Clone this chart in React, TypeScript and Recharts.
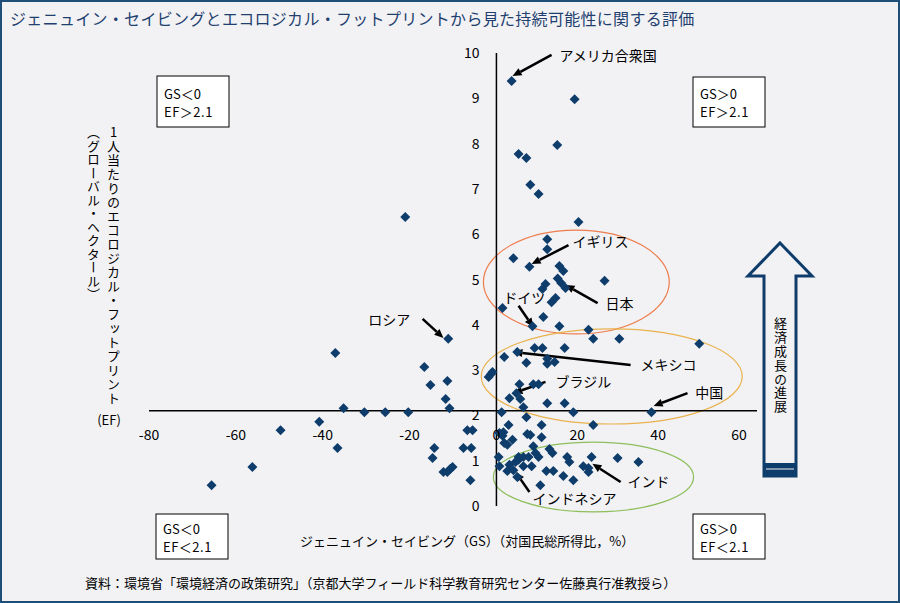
import React from 'react';
import { ScatterChart, Scatter, XAxis, YAxis, ReferenceLine, ReferenceArea, ReferenceDot } from 'recharts';

const FONT = "'Noto Sans CJK JP', 'Noto Sans', sans-serif";
const NAVY = '#0f3d6b';
const BG = '#f2f2f5';

// genuine saving (% of GNI) and ecological footprint (gha per person), one entry per country
const gsValues = [
  -65.6, -56.2, -49.7, -40.8, -36.6, -37.1, -35.2, -30.4, -25.6, -20.3,
  -21.0, -16.6, -15.2, -11.3, -11.7, -10.8, -11.1, -14.3, -14.7, -7.6,
  -5.8, -6.7, -5.5, -12.2, -11.3, -10.6, -10.1, -6.0, -1.8, -1.3, -0.9,
  3.5, 18.0, 14.0, 5.1, 6.9, 7.8, 9.7, 18.9, 11.7, 11.7, 3.9, 7.6,
  14.5, 15.4, 14.1, 14.9, 15.9, 24.9, 11.3, 10.6, 13.6, 12.7, 1.4, 10.8,
  8.3, 14.5, 21.2, 22.3, 28.3, 46.7, 8.8, 10.6, 15.7, 4.8, 1.8, 6.9,
  11.7, 11.7, 13.4, 5.3, 8.5, 9.7, 4.6, 3.0, 5.5, 11.7, 15.7, 6.2,
  1.2, 17.7, 35.7, 6.9, 22.3, 2.8, 10.4, 1.6, 1.4, 0.7, 7.1, 7.8,
  10.4, 3.7, 1.8, 2.5, 8.5, 12.2, 12.9, 0.5, 5.1, 6.2, 7.4, 9.0,
  9.7, 16.3, 16.8, 21.9, 27.9, 32.7, 4.4, 5.1, 3.0, 0.7, 6.2, 8.1,
  20.0, 21.2, 2.5, 3.9, 11.5, 13.1, 21.2, 4.8, 15.4, 17.7, 10.1,
];
const efValues = [
  0.46, 0.86, 1.67, 1.86, 1.28, 3.38, 2.16, 2.07, 2.07, 2.07,
  6.38, 3.07, 2.67, 2.76, 2.36, 2.16, 3.69, 1.28, 1.06, 1.28,
  1.28, 1.67, 1.67, 0.75, 0.75, 0.82, 0.86, 0.57, 2.85, 2.91, 2.96,
  9.38, 8.98, 7.97, 7.77, 7.68, 7.09, 6.89, 6.27, 5.89, 5.67, 5.47, 5.28,
  5.30, 5.19, 5.02, 4.92, 4.81, 4.97, 4.90, 4.79, 4.59, 4.50, 4.37, 4.17,
  3.97, 3.97, 3.89, 3.69, 3.69, 3.58, 3.49, 3.49, 3.49, 3.40, 3.29, 3.16,
  3.25, 3.14, 3.18, 2.69, 2.69, 2.69, 2.49, 2.38, 2.36, 2.27, 2.27, 2.18,
  2.07, 2.07, 2.07, 1.96, 1.79, 1.79, 1.79, 1.63, 1.55, 1.61, 1.59, 1.57,
  1.52, 1.46, 1.39, 1.35, 1.32, 1.26, 1.17, 1.08, 1.08, 1.08, 1.08, 1.17,
  1.08, 1.08, 0.97, 1.08, 1.06, 0.97, 0.97, 1.02, 0.91, 0.88, 0.88, 0.88,
  0.88, 0.84, 0.77, 0.79, 0.77, 0.77, 0.75, 0.64, 0.66, 0.57, 0.46,
];

const xTicks = [-80, -60, -40, -20, 0, 20, 40, 60];
const yTicks = [0, 1, 2, 3, 4, 5, 6, 7, 8, 9, 10];
const efThreshold = 2.1;

const points = gsValues.map((gs, i) => ({ gs, ef: efValues[i] }));

const countryNames = ['アメリカ合衆国', 'イギリス', '日本', 'ドイツ', 'ロシア', 'メキシコ', 'ブラジル', '中国', 'インド', 'インドネシア'];
// where each name sits and where its arrow runs, in data units
const labelAt = [[14.5, 9.93], [17.5, 5.83], [25.1, 4.46], [1.6, 4.59], [-29.5, 4.11], [33.2, 3.11], [13.6, 2.74], [45.8, 2.49], [30.2, 0.53], [8.3, 0.15]];
const arrowFrom = [[12.7, 9.96], [16.6, 5.76], [23.3, 4.48], [5.1, 4.42], [-17.0, 4.13], [30.9, 3.11], [11.3, 2.74], [44.0, 2.49], [28.6, 0.53], [7.6, 0.31]];
const arrowTo = [[3.7, 9.49], [8.1, 5.34], [15.9, 4.88], [8.5, 3.95], [-12.2, 3.71], [3.9, 3.4], [3.9, 2.49], [36.2, 2.21], [22.1, 0.93], [4.4, 0.75]];

// grouping ellipses: [gs min, gs max, ef min, ef max]
const groups = [
  { box: [-3.0, 39.8, 3.8, 6.09], color: '#ee7d4c' },
  { box: [-3.5, 56.6, 1.81, 3.91], color: '#e9b24c' },
  { box: [-0.7, 45.4, -0.13, 1.41], color: '#8dbe5b' },
];

const W = 900;
const H = 603;
const AXIS_SIZE = 30;
const M = { top: 53, right: 143, bottom: 97 - AXIS_SIZE, left: 149 - AXIS_SIZE };
const PW = W - 149 - 143;
const PH = H - 53 - 97;
const zeroX = 149 + (PW * 80) / 140;
const crossY = 53 + PH * (1 - efThreshold / 10);

const Diamond = (p: any) => (
  <polygon
    points={`${p.cx},${p.cy - 5} ${p.cx + 5},${p.cy} ${p.cx},${p.cy + 5} ${p.cx - 5},${p.cy}`}
    fill={NAVY}
  />
);

// the original's positive-side labels sit a little left of their ticks
const XTick = (p: any) => {
  const v = p.payload.value;
  const dx = v > 0 ? -v * 0.3 : 0;
  return (
    <text x={p.x + dx} y={crossY + 29} textAnchor="middle" fontSize={14} fontFamily={FONT} fill="#000">
      {v}
    </text>
  );
};

const YTick = (p: any) => (
  <text x={zeroX - 17} y={p.y + 5} textAnchor="end" fontSize={14} fontFamily={FONT} fill="#000">
    {p.payload.value}
  </text>
);

const arrowShape = (p: any) => {
  const { x1, y1, x2, y2 } = p;
  const a = Math.atan2(y2 - y1, x2 - x1);
  const len = 9;
  const w = 4;
  const bx = x2 - len * Math.cos(a);
  const by = y2 - len * Math.sin(a);
  const nx = -Math.sin(a) * w;
  const ny = Math.cos(a) * w;
  return (
    <g>
      <line x1={x1} y1={y1} x2={bx} y2={by} stroke="#000" strokeWidth={2.5} />
      <polygon points={`${x2},${y2} ${bx + nx},${by + ny} ${bx - nx},${by - ny}`} fill="#000" />
    </g>
  );
};

const ellipseShape = (color: string) => (p: any) => {
  const w = Math.abs(p.width);
  const h = Math.abs(p.height);
  const x = p.width < 0 ? p.x + p.width : p.x;
  const y = p.height < 0 ? p.y + p.height : p.y;
  return <ellipse cx={x + w / 2} cy={y + h / 2} rx={w / 2} ry={h / 2} fill="none" stroke={color} strokeWidth={1.2} />;
};

const QuadBox = ({ x, y, h, gs, ef }: { x: number; y: number; h: number; gs: string; ef: string }) => (
  <g>
    <rect x={x} y={y} width={72} height={h} fill="#fff" stroke="#000" strokeWidth={1} />
    <text x={x + 7} y={y + h / 2 - 3} fontSize={13} fontFamily={FONT}>{gs}</text>
    <text x={x + 7} y={y + h / 2 + 15} fontSize={13} fontFamily={FONT} letterSpacing={0.5}>{ef}</text>
  </g>
);

export default function App() {
  return (
    <div style={{ position: 'absolute', left: 0, top: 0, width: W, height: H, background: BG, fontFamily: FONT }}>
      <div style={{ position: 'absolute', left: 0, top: 0 }}>
        <ScatterChart width={W} height={H} margin={M}>
          <XAxis
            type="number"
            dataKey="gs"
            domain={[-80, 60]}
            ticks={xTicks}
            interval={0}
            height={AXIS_SIZE}
            axisLine={false}
            tickLine={false}
            tick={<XTick />}
          />
          <YAxis
            type="number"
            dataKey="ef"
            domain={[0, 10]}
            ticks={yTicks}
            interval={0}
            width={AXIS_SIZE}
            axisLine={false}
            tickLine={false}
            tick={<YTick />}
          />
          {groups.map((g, i) => (
            <ReferenceArea
              key={'g' + i}
              x1={g.box[0]}
              x2={g.box[1]}
              y1={g.box[2]}
              y2={g.box[3]}
              ifOverflow="visible"
              shape={ellipseShape(g.color)}
            />
          ))}
          <ReferenceLine x={0} stroke="#000" strokeWidth={1.5} />
          <ReferenceLine y={efThreshold} stroke="#000" strokeWidth={1.5} />
          <Scatter data={points} shape={Diamond} isAnimationActive={false} />
          {countryNames.map((name, i) => (
            <ReferenceLine
              key={'a' + i}
              segment={[
                { x: arrowFrom[i][0], y: arrowFrom[i][1] },
                { x: arrowTo[i][0], y: arrowTo[i][1] },
              ]}
              ifOverflow="visible"
              shape={arrowShape}
            />
          ))}
          {countryNames.map((name, i) => (
            <ReferenceDot
              key={'l' + i}
              x={labelAt[i][0]}
              y={labelAt[i][1]}
              r={0}
              ifOverflow="visible"
              shape={(p: any) => (
                <text x={p.cx} y={p.cy + 5} fontSize={14} fontFamily={FONT} fill="#000">
                  {name}
                </text>
              )}
            />
          ))}
        </ScatterChart>
      </div>

      <svg width={W} height={H} style={{ position: 'absolute', left: 0, top: 0, pointerEvents: 'none' }}>
        <rect x={1} y={1} width={W - 2} height={H - 2} fill="none" stroke="#1f4e79" strokeWidth={2} />
        <text x={10} y={25} fontSize={16} fontFamily={FONT} fill="#1f3f6f" letterSpacing={0.3}>
          ジェニュイン・セイビングとエコロジカル・フットプリントから見た持続可能性に関する評価
        </text>
        <QuadBox x={157} y={76} h={51} gs="GS＜0" ef="EF＞2.1" />
        <QuadBox x={693} y={77} h={50} gs="GS＞0" ef="EF＞2.1" />
        <QuadBox x={156} y={514} h={45} gs="GS＜0" ef="EF＜2.1" />
        <QuadBox x={693} y={514} h={45} gs="GS＞0" ef="EF＜2.1" />
        <text x={300} y={546} fontSize={13} fontFamily={FONT}>
          ジェニュイン・セイビング（GS）（対国民総所得比，%）
        </text>
        <text x={85} y={588} fontSize={13} fontFamily={FONT}>
          資料：環境省「環境経済の政策研究」（京都大学フィールド科学教育研究センター佐藤真行准教授ら）
        </text>
        <text x={109} y={425} fontSize={13} fontFamily={FONT} textAnchor="middle">(EF)</text>
        <polygon
          points="780,243 812,276 796,276 796,476 764,476 764,276 748,276"
          fill="none"
          stroke={NAVY}
          strokeWidth={3}
        />
        <rect x={764} y={463} width={32} height={14} fill={NAVY} />
        <line x1={766} y1={469} x2={794} y2={469} stroke={BG} strokeWidth={1} />
      </svg>

      <div
        style={{
          position: 'absolute', left: 106, top: 126, writingMode: 'vertical-rl', textOrientation: 'upright',
          fontSize: 13, lineHeight: '14px', letterSpacing: 1, whiteSpace: 'nowrap',
        }}
      >
        1人当たりのエコロジカル・フットプリント
      </div>
      <div
        style={{
          position: 'absolute', left: 86, top: 126, writingMode: 'vertical-rl', textOrientation: 'upright',
          fontSize: 13, lineHeight: '14px', letterSpacing: 0.5, whiteSpace: 'nowrap',
        }}
      >
        （グローバル・ヘクタール）
      </div>
      <div
        style={{
          position: 'absolute', left: 773, top: 317, writingMode: 'vertical-rl', textOrientation: 'upright',
          fontSize: 13, lineHeight: '14px', letterSpacing: 0.8, whiteSpace: 'nowrap',
        }}
      >
        経済成長の進展
      </div>
    </div>
  );
}
